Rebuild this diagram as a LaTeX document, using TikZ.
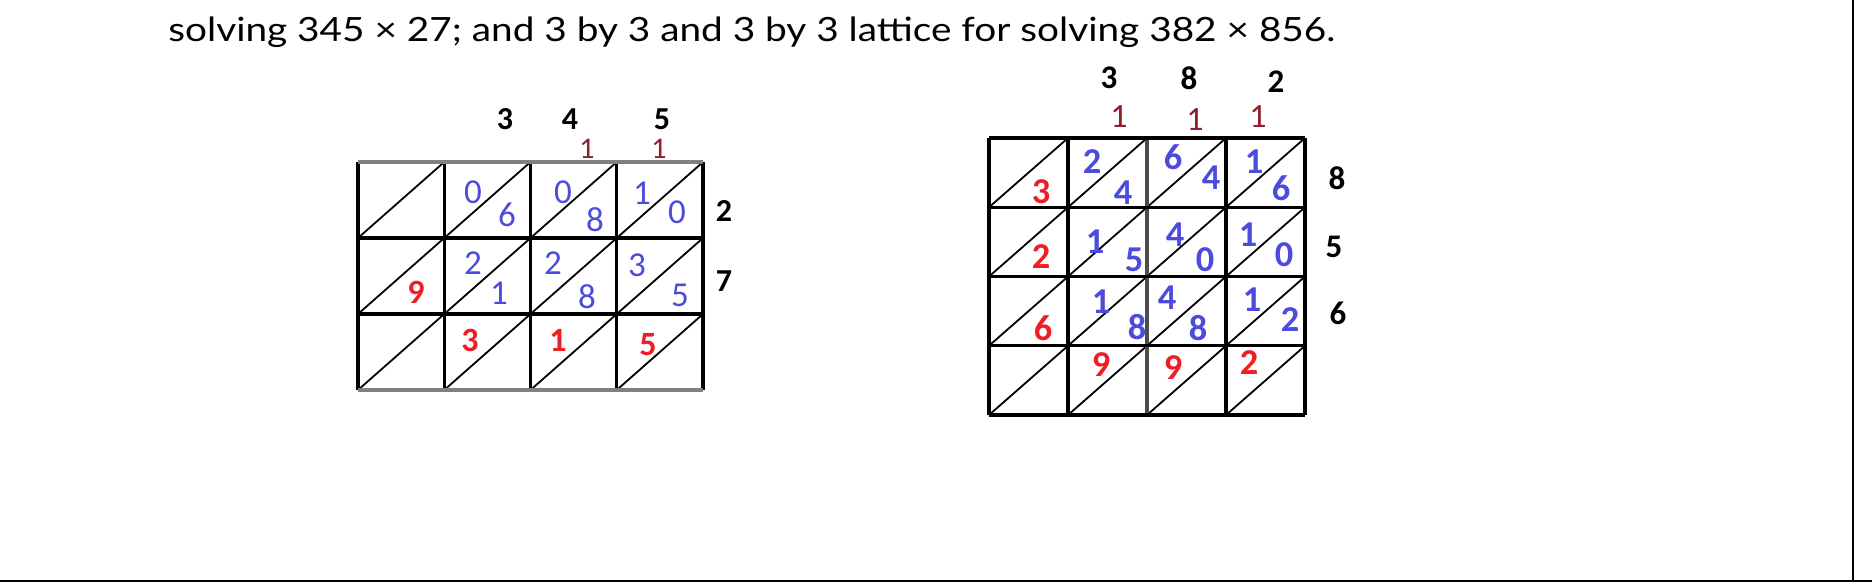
\documentclass[tikz,border=0pt]{standalone}
\usepackage{fontspec}
\setmainfont{Lato}
\newfontfamily\capfont[FakeStretch=1.16]{Lato}
\newfontfamily\calib{Carlito}
\usepackage{tikz}
\usetikzlibrary{calc}
\definecolor{digblue}{RGB}{75,75,220}
\definecolor{digred}{RGB}{238,30,36}
\definecolor{carryred}{RGB}{145,30,45}

\begin{document}
\begin{tikzpicture}[x=0.5pt, y=-0.5pt,
    gridline/.style={line width=1.6pt},
    diag/.style={line width=0.9pt},
    digit/.style={inner sep=0pt, font=\calib\fontsize{#1}{#1}\selectfont},
    part/.style={digit=17.5, text=digblue},
    boldpart/.style={inner sep=0pt, text=digblue, font=\calib\bfseries\fontsize{18.2}{18.2}\selectfont},
    sum/.style={inner sep=0pt, text=digred, font=\calib\bfseries\fontsize{#1}{#1}\selectfont},
    factor/.style={inner sep=0pt, font=\calib\bfseries\fontsize{#1}{#1}\selectfont},
    carry/.style={digit=#1, text=carryred}]
\useasboundingbox (0,0) rectangle (1872,584);
\node[anchor=base west, inner sep=0pt, font=\capfont\fontsize{16.7}{16.7}\selectfont] (caption) at (168,41)
    {solving 345 × 27; and 3 by 3 and 3 by 3 lattice for solving 382 × 856.};
\draw[line width=1.35pt] (0,581) -- (1872,581);
\draw[line width=1.35pt] (1853,0) -- (1853,581);

% 3 by 2 lattice
\foreach \i in {0,...,3}
    \foreach \j in {0,...,2}
        \draw[diag] (358+\i*86.25,238+\j*76) -- ++(86.25,-76);
\foreach \i in {0,...,4}
    \draw[gridline] (358+\i*86.25,162) -- (358+\i*86.25,390);
\foreach \j/\c in {0/gray,1/black,2/black,3/gray}
    \draw[gridline, \c] (358,162+\j*76) -- (703,162+\j*76);
\foreach \px/\py/\d [count=\k] in {473/192/0, 507/215/6, 563/192/0, 595/220/8, 642/193/1, 677/212/0,
        473/263/2, 499/293/1, 553/263/2, 587/297/8, 637/265/3, 680/295/5}
    \node[part] (pa\k) at (\px,\py) {\d};
\foreach \px/\py/\d [count=\k] in {416/292/9, 470/340/3, 558/340/1, 648/345/5}
    \node[sum=17] (sa\k) at (\px,\py) {\d};
\foreach \px/\py/\d [count=\k] in {505/119/3, 570/119/4, 662/119/5, 724/211/2, 724/281/7}
    \node[factor=16] (fa\k) at (\px,\py) {\d};
\node[carry=15] (ca1) at (587,149) {1};
\node[carry=15] (ca2) at (659,149) {1};

% 3 by 3 lattice
\foreach \i in {0,...,3}
    \foreach \j in {0,...,3}
        \draw[diag] (989+\i*79,207.25+\j*69.25) -- ++(79,-69.25);
\foreach \i/\c in {0/black,1/black,2/gray!60!black,3/black,4/black}
    \draw[gridline, \c] (989+\i*79,138) -- (989+\i*79,415);
\foreach \j in {0,...,4}
    \draw[gridline] (989,138+\j*69.25) -- (1305,138+\j*69.25);
\foreach \px/\py/\d [count=\k] in {1092/162/2, 1123/193/4, 1173/157/6, 1211/178/4, 1254/162/1, 1281/188/6,
        1095/242/1, 1134/260/5, 1175/235/4, 1205/260/0, 1248/235/1, 1284/255/0,
        1101/302/1, 1137/327/8, 1167/298/4, 1198/328/8, 1252/300/1, 1290/320/2}
    \node[boldpart] (pb\k) at (\px,\py) {\d};
\foreach \px/\py/\d [count=\k] in {1041/192/3, 1041/257/2, 1043/328/6, 1101/365/9, 1173/368/9, 1249/363/2}
    \node[sum=18.2] (sb\k) at (\px,\py) {\d};
\foreach \px/\py/\d [count=\k] in {1109/78/3, 1189/78/8, 1276/82/2, 1337/178/8, 1334/247/5, 1338/313/6}
    \node[factor=16.5] (fb\k) at (\px,\py) {\d};
\foreach \px/\py [count=\k] in {1119/117, 1195/120, 1258/117}
    \node[carry=17] (cb\k) at (\px,\py) {1};
\end{tikzpicture}
\end{document}
